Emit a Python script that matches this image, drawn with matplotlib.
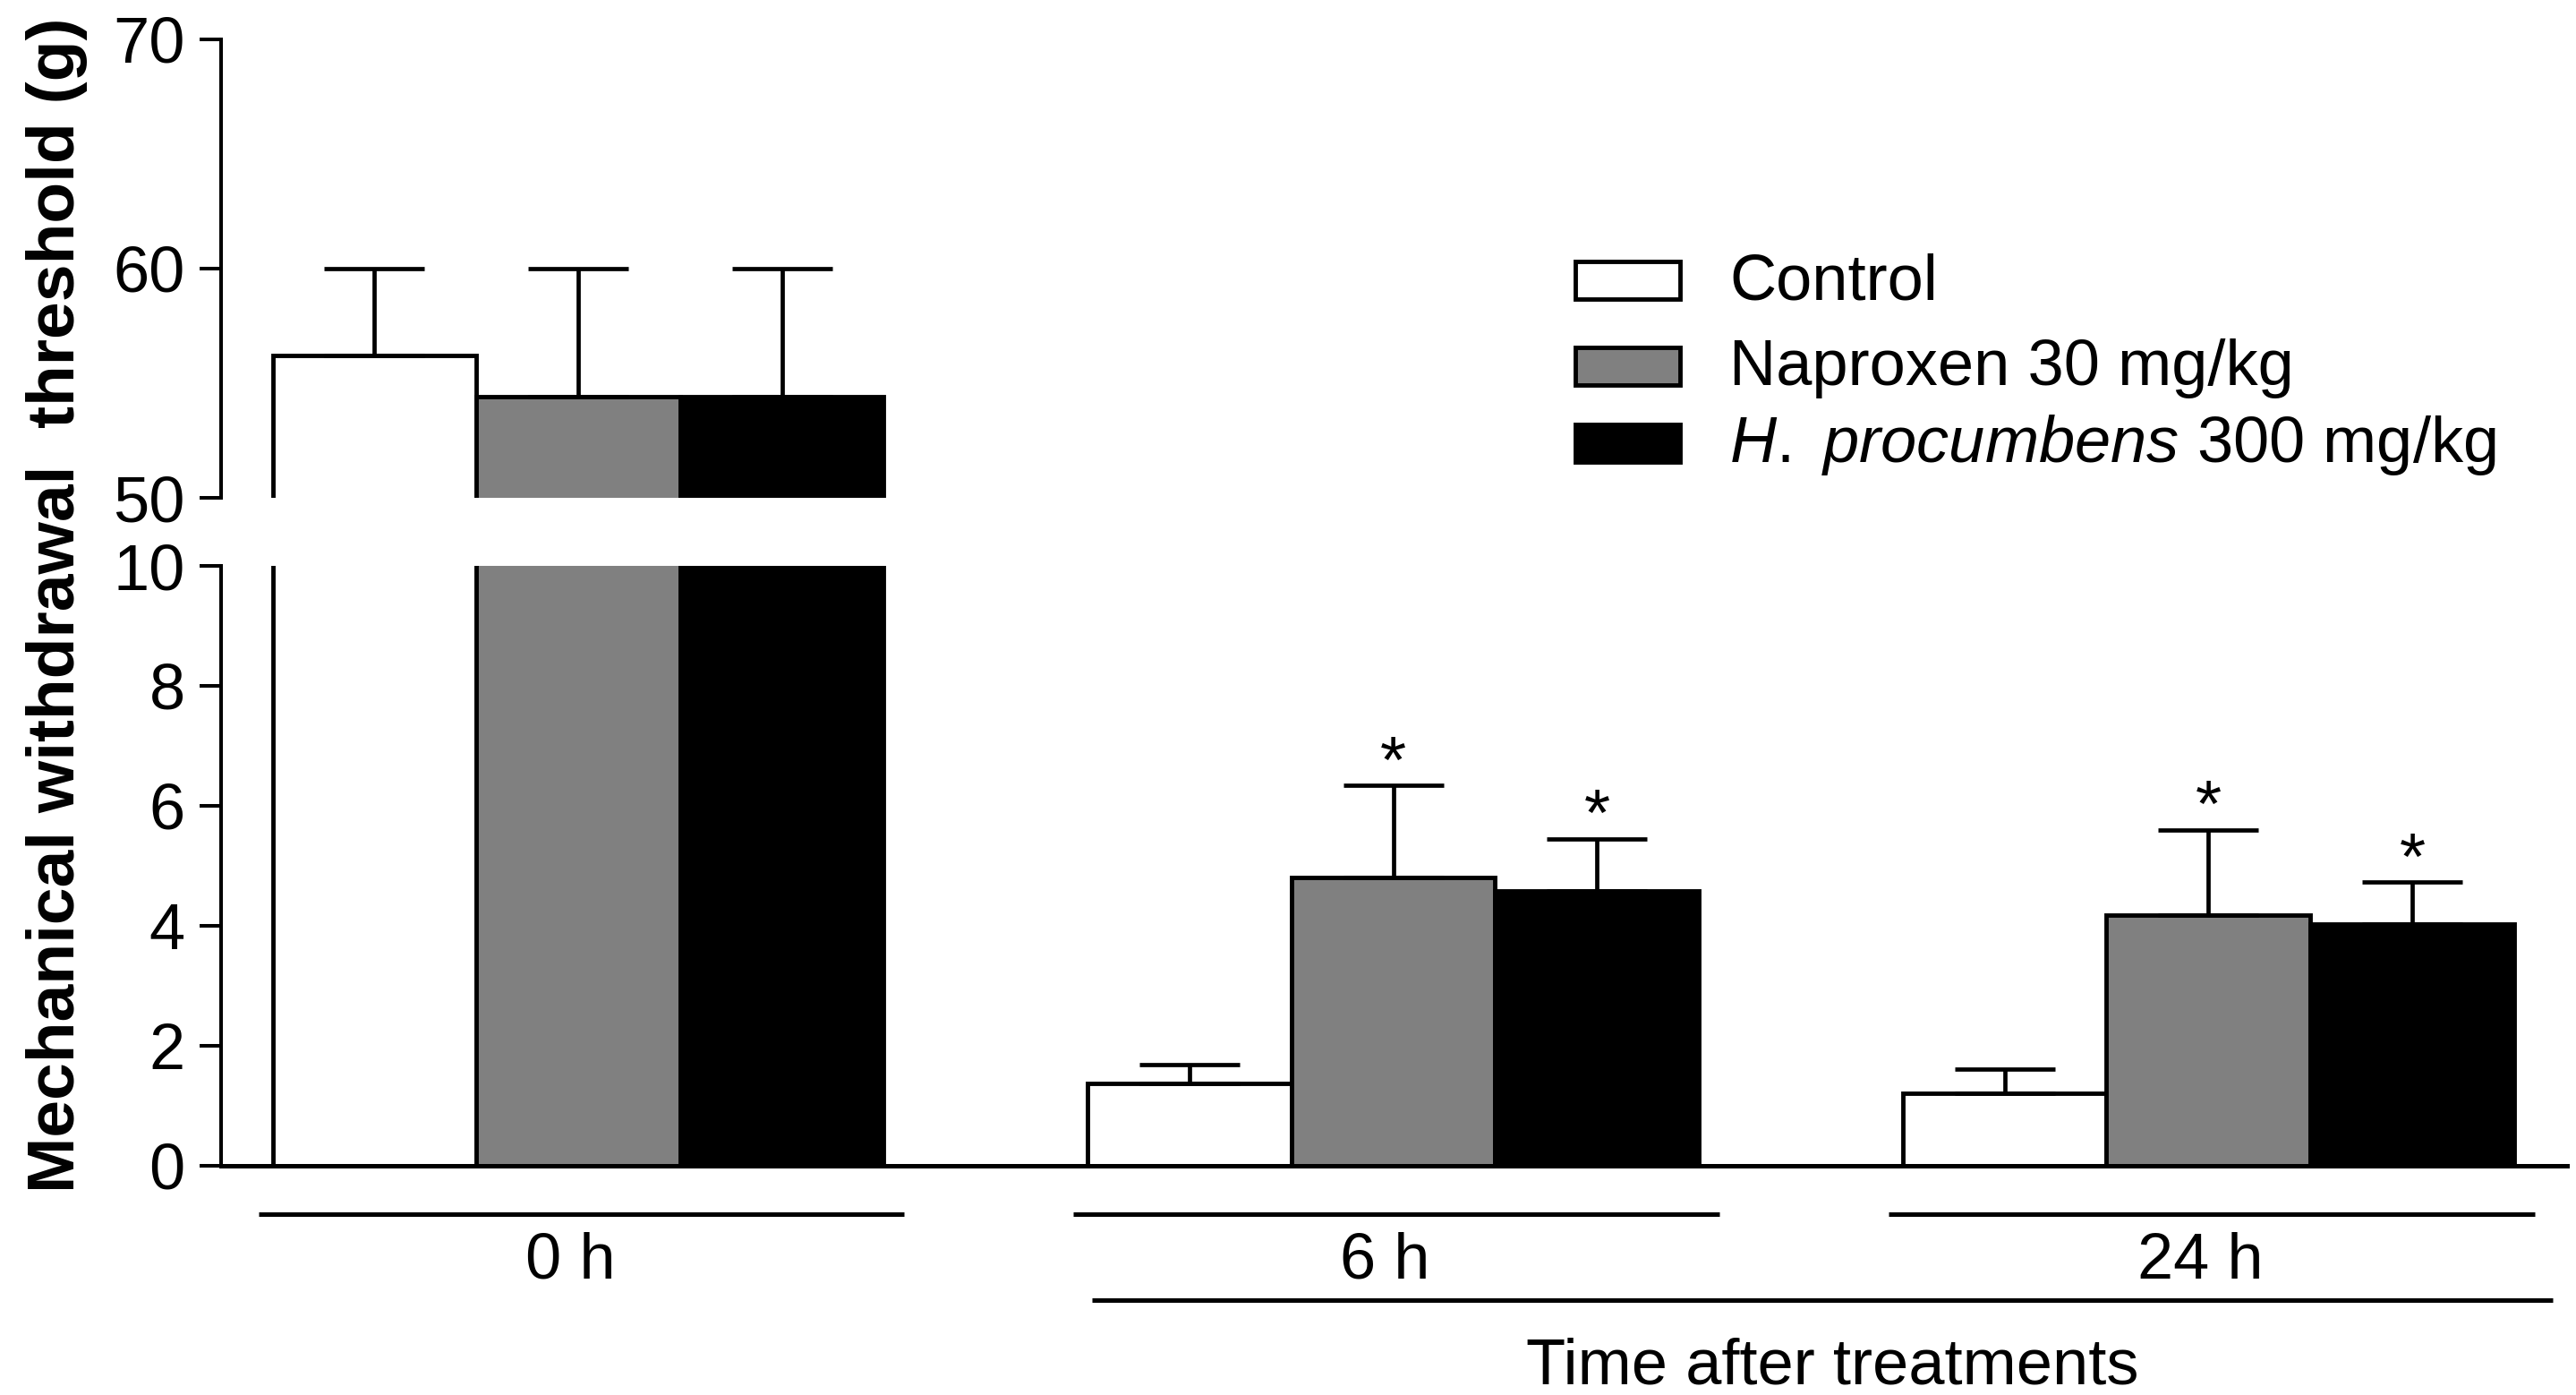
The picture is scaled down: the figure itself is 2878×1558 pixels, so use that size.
import matplotlib
matplotlib.use('Agg')
import matplotlib.pyplot as plt
from matplotlib.patches import Rectangle
import numpy as np

plt.rcParams['font.family'] = ['Liberation Sans', 'DejaVu Sans']
plt.rcParams['mathtext.fontset'] = 'custom'
plt.rcParams['mathtext.rm'] = 'Liberation Sans'
plt.rcParams['mathtext.it'] = 'Liberation Sans:italic'

# Data (mean and upward SEM per group)
groups = ['0 h', '6 h', '24 h']
series_labels = ['Control', 'Naproxen 30 mg/kg', r'$\it{H.}$ $\it{procumbens}$ 300 mg/kg']
series_colors = ['white', '#808080', 'black']

control_mean = [56.2, 1.37, 1.20]
control_sem = [3.8, 0.31, 0.40]
naproxen_mean = [54.4, 4.81, 4.17]
naproxen_sem = [5.6, 1.53, 1.43]
hp_mean = [54.4, 4.58, 4.03]
hp_sem = [5.6, 0.87, 0.70]
naproxen_sig = [False, True, True]
hp_sig = [False, True, True]

means = [control_mean, naproxen_mean, hp_mean]
sems = [control_sem, naproxen_sem, hp_sem]
sigs = [[False, False, False], naproxen_sig, hp_sig]

upper_ticks = [50, 60, 70]
lower_ticks = [0, 2, 4, 6, 8, 10]

FS = 52
LW = 3.5

fig = plt.figure(figsize=(28.78, 15.58), dpi=100)
ax_top = fig.add_axes([0.0858, 0.6431, 0.9107, 0.3287])
ax_bot = fig.add_axes([0.0858, 0.1646, 0.9107, 0.4297])

group_pos = np.arange(len(groups)) * 4

for ax in (ax_top, ax_bot):
    for k in range(3):
        x = group_pos + k
        ax.bar(x, means[k], width=1.0, color=series_colors[k], edgecolor='black',
               linewidth=LW, yerr=[np.zeros(len(groups)), sems[k]],
               error_kw=dict(ecolor='black', elinewidth=3.4, capsize=40, capthick=3.4))
    ax.set_xlim(-0.753, 10.76)
    ax.spines['top'].set_visible(False)
    ax.spines['right'].set_visible(False)
    ax.spines['left'].set_linewidth(2.9)
    ax.set_xticks([])
    ax.tick_params(axis='y', direction='out', length=17, width=2.9, pad=12, labelsize=FS)

ax_top.set_ylim(50, 70)
ax_top.set_yticks(upper_ticks)
ax_top.spines['bottom'].set_visible(False)

ax_bot.set_ylim(0, 10)
ax_bot.set_yticks(lower_ticks)
ax_bot.spines['bottom'].set_linewidth(3.6)

# significance stars
for k in range(3):
    for g in range(len(groups)):
        if sigs[k][g]:
            ax_bot.annotate('*', xy=(group_pos[g] + k, means[k][g] + sems[k][g]),
                            xytext=(0, 2.4), textcoords='offset points',
                            ha='center', va='baseline', fontsize=54)

# group lines and labels under the axis
tr = ax_bot.get_xaxis_transform()
for g, name in enumerate(groups):
    left = group_pos[g] - 0.5
    ax_bot.plot([left - 0.07, left + 3.1], [-0.0807, -0.0807], transform=tr,
                color='black', lw=3.6, clip_on=False, solid_capstyle='butt')
    ax_bot.text(group_pos[g] + 0.96, -0.1883, name, transform=tr, ha='center',
                va='baseline', fontsize=FS)

x0 = group_pos[1] - 0.5 + 0.02
x1 = group_pos[2] - 0.5 + 3.19
ax_bot.plot([x0, x1], [-0.2253, -0.2253], transform=tr, color='black', lw=3.6,
            clip_on=False, solid_capstyle='butt')
ax_bot.text((x0 + x1) / 2 + 0.05, -0.3647, 'Time after treatments', transform=tr,
            ha='center', va='baseline', fontsize=FS)

# y label spanning both axes
fig.text(83 / 2878, 0.5661, 'Mechanical withdrawal  threshold (g)', rotation=90,
         rotation_mode='anchor', ha='center', va='baseline', fontsize=54,
         fontweight='bold')

# legend
leg_base = [0.7856, 0.7240, 0.6688]
for k in range(3):
    fig.add_artist(Rectangle((0.6115, leg_base[k]), 0.04065, 0.02696,
                             transform=fig.transFigure, facecolor=series_colors[k],
                             edgecolor='black', linewidth=LW))
    fig.text(0.6713, leg_base[k], series_labels[k], ha='left', va='baseline',
             fontsize=FS)

fig.savefig('out.png', dpi=100)
